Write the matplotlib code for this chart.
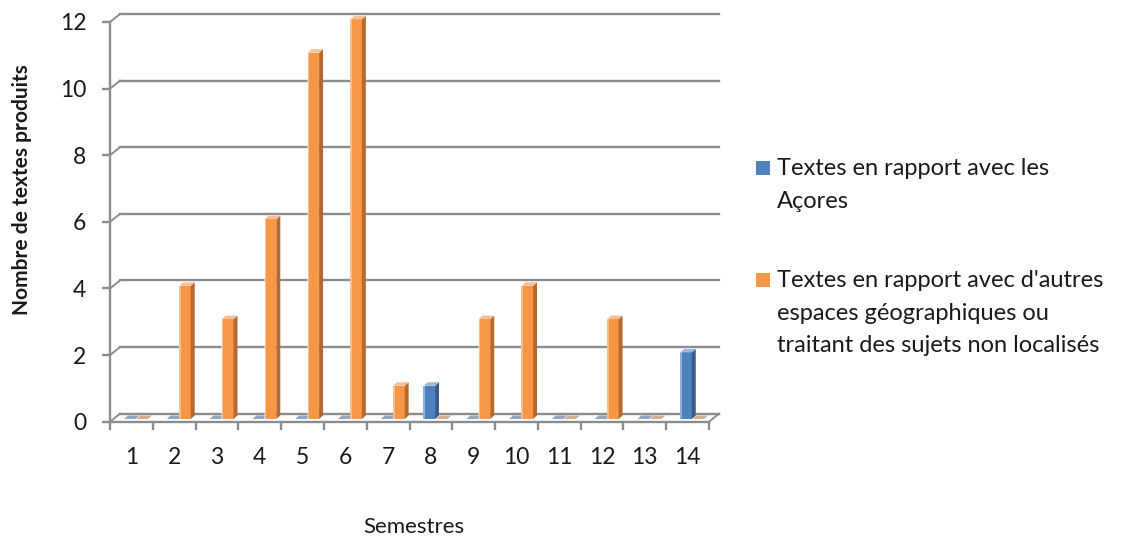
import matplotlib
matplotlib.use("Agg")
import matplotlib.pyplot as plt
from matplotlib.patches import Rectangle, Polygon

plt.rcParams['font.family'] = ['Lato', 'DejaVu Sans']

semestres = list(range(1, 15))
acores = [0, 0, 0, 0, 0, 0, 0, 1, 0, 0, 0, 0, 0, 2]
autres = [0, 4, 3, 6, 11, 12, 1, 0, 3, 4, 0, 3, 0, 0]
series_names = [["Textes en rapport avec les", "Açores"],
                ["Textes en rapport avec d'autres", "espaces géographiques ou",
                 "traitant des sujets non localisés"]]
yticks = [0, 2, 4, 6, 8, 10, 12]

# face, side, top colours for each series
blue = ("#4F81BD", "#385D8A", "#9DB7DA")
orange = ("#F79646", "#B5692F", "#F9BE91")
grid_col = "#8C8C8C"
text_col = "#1A1A1A"

W, H = 1127, 541
fig = plt.figure(figsize=(W / 100, H / 100), dpi=100)
ax = fig.add_axes([110 / W, (H - 421.7) / H, 599 / W, 399.7 / H])
ax.set_xlim(0.5, 14.5)
ax.set_ylim(0, 12)

# depth of the back wall and of the bars, in data units
wall_dx, wall_dy = 0.234, 0.24
bar_dx, bar_dy = 0.093, 0.105
shift_x, shift_y = 0.117, 0.08
bar_w = 0.27

# back wall gridlines with the little diagonal joining the front axis
for v in yticks:
    ax.plot([0.5 + wall_dx, 14.5 + wall_dx], [v + wall_dy, v + wall_dy],
            color=grid_col, lw=1.7, zorder=1, clip_on=False)
    ax.plot([0.5, 0.5 + wall_dx], [v, v + wall_dy],
            color=grid_col, lw=1.4, zorder=1, clip_on=False)
# floor right edge
ax.plot([14.5, 14.5 + wall_dx], [0, wall_dy], color=grid_col, lw=1.4,
        zorder=1, clip_on=False)


def draw_bar(x0, h, cols):
    face, side, top = cols
    y0 = shift_y
    if h > 0:
        ax.add_patch(Rectangle((x0, y0), bar_w, h, facecolor=face,
                               edgecolor="none", zorder=3, clip_on=False))
        ax.add_patch(Polygon([(x0 + bar_w, y0), (x0 + bar_w + bar_dx, y0 + bar_dy),
                              (x0 + bar_w + bar_dx, y0 + h + bar_dy), (x0 + bar_w, y0 + h)],
                             closed=True, facecolor=side, edgecolor="none",
                             zorder=3, clip_on=False))
        # pale highlight on the left edge of the face
        ax.plot([x0 + 0.012, x0 + 0.012], [y0, y0 + h], color="white", alpha=0.45,
                lw=1.2, zorder=3.5, clip_on=False)
    ax.add_patch(Polygon([(x0, y0 + h), (x0 + bar_w, y0 + h),
                          (x0 + bar_w + bar_dx, y0 + h + bar_dy), (x0 + bar_dx, y0 + h + bar_dy)],
                         closed=True, facecolor=top if h > 0 else side,
                         edgecolor="none", alpha=1 if h > 0 else 0.55,
                         zorder=3, clip_on=False))


for i, s in enumerate(semestres):
    draw_bar(s - 0.29 + shift_x, acores[i], blue)
    draw_bar(s + 0.0 + shift_x, autres[i], orange)

for side in ["top", "right"]:
    ax.spines[side].set_visible(False)
for side in ["left", "bottom"]:
    ax.spines[side].set_color(grid_col)
    ax.spines[side].set_linewidth(1.7)

ax.set_yticks(yticks)
ax.tick_params(axis="y", length=6, width=1.7, color=grid_col, pad=11,
               labelsize=16.5, labelcolor=text_col)
ax.set_xticks(semestres)
ax.set_xticklabels([str(s) for s in semestres])
ax.set_xticks([k + 0.5 for k in range(0, 15)], minor=True)
ax.tick_params(axis="x", which="major", length=0, pad=18, labelsize=16.5,
               labelcolor=text_col)
ax.tick_params(axis="x", which="minor", length=6, width=1.7, color=grid_col)

fig.text(22 / W, 1 - 190 / H, "Nombre de textes produits", rotation=90,
         ha="center", va="center", fontsize=15, fontweight="bold", color=text_col)
fig.text(414 / W, 1 - 527 / H, "Semestres", ha="center", va="center",
         fontsize=16, color=text_col)

# legend
leg_base = [[175, 207.5], [287, 319.5, 352]]
for lines, cols, bases in zip(series_names, [blue, orange], leg_base):
    fig.patches.append(Rectangle((756 / W, 1 - bases[0] / H), 14 / W, 14 / H,
                                 facecolor=cols[0], edgecolor="none",
                                 transform=fig.transFigure))
    for line, b in zip(lines, bases):
        fig.text(777 / W, 1 - b / H, line, ha="left", va="baseline",
                 fontsize=17, color=text_col)

fig.savefig("out.png", dpi=100)
